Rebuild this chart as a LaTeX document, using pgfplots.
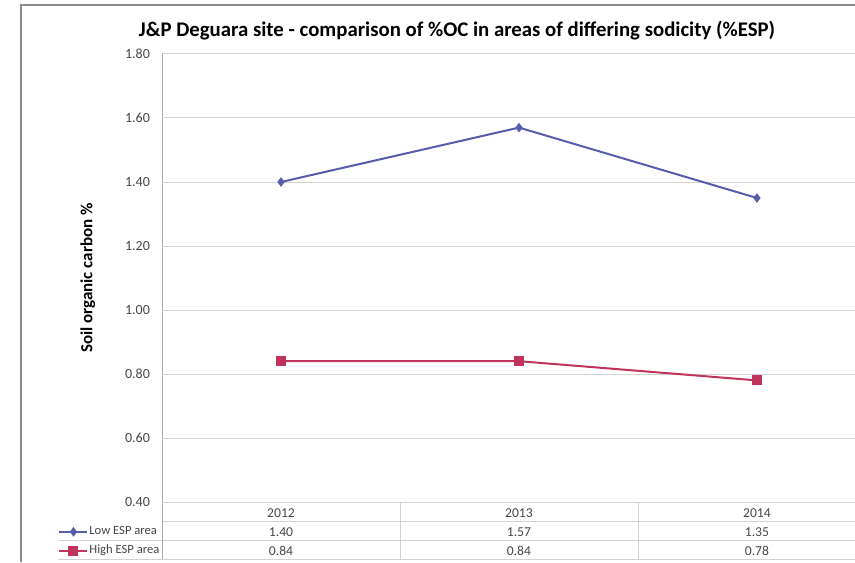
\documentclass[border=0pt]{standalone}
\usepackage{pgfplots}
\pgfplotsset{compat=1.18}
\usepackage{fontspec}
\setmainfont{Carlito}
\definecolor{lowc}{RGB}{88,92,172}
\definecolor{highc}{RGB}{192,52,92}
\definecolor{gridc}{RGB}{210,210,210}
\definecolor{framec}{RGB}{140,140,140}
\definecolor{txtc}{RGB}{70,70,70}
\begin{document}
\begin{tikzpicture}
\useasboundingbox (0,0) rectangle (427.5pt,281pt);
\begin{scope}[x=0.5pt,y=-0.5pt,shift={(0pt,281pt)}]
 \draw[framec, line width=0.8pt] (21,562) -- (21,5) -- (855,5);
 \node[font=\fontsize{10.4}{12}\selectfont\bfseries] at (457,31) {J\&P Deguara site - comparison of \%OC in areas of differing sodicity (\%ESP)};
 \draw[gridc, line width=0.5pt] (162,521) -- (855,521);
 \draw[gridc, line width=0.5pt] (58,540) -- (855,540) (58,559) -- (855,559);
 \draw[gridc, line width=0.5pt] (400,502) -- (400,559) (638,502) -- (638,559);
 \draw[gridc!80!black, line width=0.5pt] (162,54) -- (162,559);
\end{scope}
\begin{axis}[
  at={(81pt,30pt)}, anchor=south west,
  width=346.5pt, height=224pt, scale only axis,
  xmin=-0.5, xmax=2.412, ymin=0.4, ymax=1.8,
  ytick={0.4,0.6,0.8,1.0,1.2,1.4,1.6,1.8},
  xtick={0,1,2},
  xticklabels={{2012\\1.40\\0.84},{2013\\1.57\\0.84},{2014\\1.35\\0.78}},
  xticklabel style={align=center, font=\fontsize{6.8}{9.5}\selectfont, text=txtc, yshift=0pt},
  yticklabel style={font=\fontsize{7}{8}\selectfont, text=txtc, xshift=-2.5pt},
  /pgf/number format/.cd, fixed, fixed zerofill, precision=2, assume math mode=true, /pgfplots/.cd,
  axis line style={draw=none},
  major tick length=0pt,
  tick style={draw=none},
  ymajorgrids,
  grid style={gridc, line width=0.5pt},
  ylabel={Soil organic carbon \%},
  ylabel style={at={(axis description cs:-0.107,0.5)}, anchor=center, font=\fontsize{8.5}{10}\selectfont\bfseries},
  clip=false,
  legend cell align=left,
  legend style={at={(axis description cs:-0.150,-0.050)}, anchor=north west, draw=none, fill=none,
    font=\fontsize{6.3}{7}\selectfont, text=txtc, inner sep=0pt, row sep=2.5pt, column sep=0pt,
    nodes={inner sep=0.5pt, text height=4.5pt, text depth=1.5pt}},
  legend image code/.code={\draw[mark repeat=2,mark phase=2] plot coordinates {(0pt,0pt)(7pt,0pt)(14pt,0pt)};},
]
\addplot[lowc, line width=1pt, mark=diamond*, mark size=1.6pt, mark options={fill=lowc}] coordinates {(0,1.40)(1,1.57)(2,1.35)};
\addlegendentry{Low ESP area}
\addplot[highc, line width=1pt, mark=square*, mark size=2pt, mark options={fill=highc}] coordinates {(0,0.84)(1,0.84)(2,0.78)};
\addlegendentry{High ESP area}
\end{axis}
\end{tikzpicture}
\end{document}
